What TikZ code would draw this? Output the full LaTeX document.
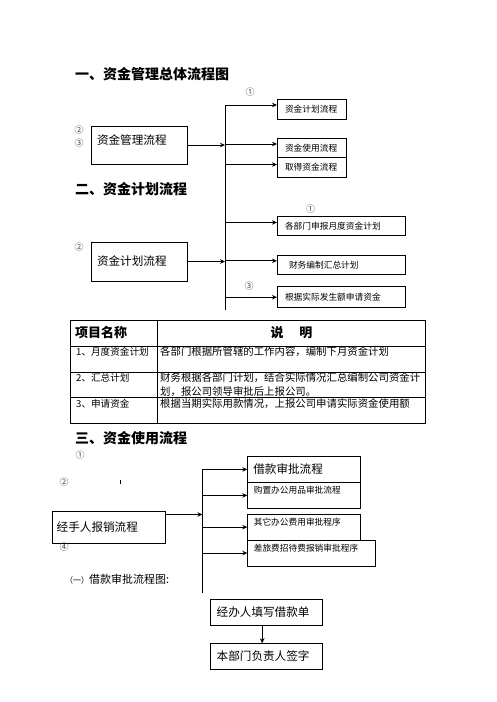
\documentclass[tikz,border=0pt]{standalone}
\usepackage{fontspec}
\setmainfont{Noto Sans CJK SC}
\usetikzlibrary{arrows.meta,positioning}
\tikzset{
  sectitle/.style={anchor=west,inner sep=0pt,font=\bfseries\fontsize{14}{16}\selectfont},
  circnum/.style={inner sep=0pt,font=\fontsize{9}{9}\selectfont,text=black!75},
  flowbox/.style={draw,line width=0.8pt,outer sep=0pt,anchor=north west,
                  inner ysep=0pt,align=left},
  bigtxt/.style={inner xsep=6pt,font=\fontsize{11.6}{13}\selectfont},
  smalltxt/.style={inner xsep=8pt,font=\fontsize{8.7}{10}\selectfont},
  cell/.style={anchor=west,inner sep=0pt,align=left,font=\fontsize{10.4}{13.5}\selectfont},
  namecell/.style={cell,font=\fontsize{9.6}{12}\selectfont},
  tabhead/.style={inner sep=0pt,font=\bfseries\fontsize{13}{15}\selectfont},
  tabline/.style={line width=0.8pt},
  arr/.style={-{Stealth[length=5pt,width=4.5pt]},line width=0.8pt},
}
\begin{document}
\begin{tikzpicture}[x=1pt,y=-1pt]
  \useasboundingbox (0,0) rectangle (496,702);

  % --- section 1
  \node[sectitle] (t1) at (75,74) {一、资金管理总体流程图};
  \node[flowbox,bigtxt,text width=84pt,minimum height=38pt,text depth=11.4pt]
    (m1) at (91,126) {资金管理流程};
  \node[flowbox,smalltxt,text width=53pt,minimum height=20pt] (a1) at (277,99) {资金计划流程};
  \node[flowbox,smalltxt,text width=53pt,minimum height=19pt] (a2) at (277,138.5) {资金使用流程};
  \node[flowbox,smalltxt,text width=53pt,minimum height=20pt,below=0pt of a2] (a3) {取得资金流程};

  \node[circnum] (n11) at (250,92) {①};
  \node[circnum] (n12) at (79,130.5) {②};
  \node[circnum] (n13) at (79,143) {③};

  \coordinate (v1t) at (225,105);
  \coordinate (v1b) at (225,310);
  \draw[tabline] (v1t) -- (v1b);
  \draw[arr] (m1.east) -- (m1.east -| v1t);
  \draw[arr] (v1t) -- (v1t -| a1.west);
  \coordinate (p2) at ([yshift=4pt]a2.west);
  \coordinate (p3) at ([yshift=3pt]a3.west);
  \draw[arr] (v1t |- p2) -- (p2);
  \draw[arr] (v1t |- p3) -- (p3);

  % --- section 2
  \node[sectitle] (t2) at (75,189) {二、资金计划流程};
  \node[flowbox,bigtxt,text width=84pt,minimum height=39pt] (m2) at (91,242) {资金计划流程};
  \node[flowbox,smalltxt,text width=112pt,minimum height=18.5pt] (b1) at (277,216.7) {各部门申报月度资金计划};
  \node[flowbox,smalltxt,text width=112pt,minimum height=19pt] (b2) at (277,255.3) {\hspace{4pt}财务编制汇总计划};
  \node[flowbox,smalltxt,text width=112pt,minimum height=21pt] (b3) at (277,286.7) {根据实际发生额申请资金};

  \node[circnum] (n21) at (310.7,209) {①};
  \node[circnum] (n22) at (79,247.5) {②};
  \node[circnum] (n23) at (249,286.5) {③};

  \draw[arr] (m2.east) -- (m2.east -| v1t);
  \coordinate (q1) at ([yshift=3.5pt]b1.west);
  \coordinate (q2) at ([yshift=4pt]b2.west);
  \draw[arr] (v1t |- q1) -- (q1);
  \draw[arr] (v1t |- q2) -- (q2);
  \draw[arr] (v1t |- b3.west) -- (b3.west);

  % --- table
  \draw[tabline] (70.7,320) rectangle (425.7,423.3);
  \draw[tabline] (157.7,320) -- (157.7,423.3);
  \foreach \y in {346,372,397}
    \draw[tabline] (70.7,\y) -- (425.7,\y);
  \node[tabhead,anchor=west] (h1) at (75,333) {项目名称};
  \node[tabhead] (h2) at (291.5,333) {说\hspace{16pt}明};
  \node[namecell] (r1a) at (76,352) {1、月度资金计划};
  \node[cell] (r1b) at (160,352) {各部门根据所管辖的工作内容，编制下月资金计划};
  \node[namecell] (r2a) at (76,378) {2、汇总计划};
  \node[cell] (r2b) at (160,384.7) {财务根据各部门计划，结合实际情况汇总编制公司资金计\\划，报公司领导审批后上报公司。};
  \node[namecell] (r3a) at (76,404) {3、申请资金};
  \node[cell] (r3b) at (160,404) {根据当期实际用款情况，上报公司申请实际资金使用额};

  % --- section 3
  \node[sectitle] (t3) at (75,438) {三、资金使用流程};
  \node[flowbox,bigtxt,inner xsep=4.4pt,text width=104.6pt,minimum height=31.7pt]
    (m3) at (52.3,511.3) {经手人报销流程};
  \node[flowbox,bigtxt,text width=101.4pt,minimum height=26.2pt] (c1) at (247.3,456.3) {借款审批流程};
  \node[flowbox,smalltxt,inner xsep=6.5pt,text width=100.4pt,minimum height=25.8pt,
        text depth=11.8pt,below=0pt of c1] (c2) {购置办公用品审批流程};
  \node[flowbox,smalltxt,inner xsep=6.5pt,text width=100.4pt,minimum height=25.7pt,
        text depth=10pt] (c3) at (247.3,514.3) {其它办公费用审批程序};
  \node[flowbox,smalltxt,inner xsep=6.5pt,text width=114.7pt,minimum height=26pt,
        text depth=10.4pt,below=0pt of c3.south west,anchor=north west] (c4) {差旅费招待费报销审批程序};

  \node[circnum] (n31) at (80,455.5) {①};
  \node[circnum] (n32) at (64,481.7) {②};
  \node[circnum] (n34) at (64,547) {④};
  \draw[line width=0.6pt] (120,479.5) -- (120,483.5);

  \coordinate (v3t) at (202.5,469.3);
  \coordinate (v3b) at (202.5,592.7);
  \draw[tabline] (v3t) -- (v3b);
  \coordinate (s0) at ([yshift=-3.2pt]m3.north east);
  \draw[arr] (s0) -- (s0 -| v3t);
  \foreach \b in {c1,c2,c3,c4}
    \draw[arr] (v3t |- \b.west) -- (\b.west);

  \node[anchor=west,inner sep=0pt,font=\fontsize{11}{13}\selectfont] (sub1) at (65,579)
    {{\fontsize{8}{8}\selectfont （一）}借款审批流程图:};

  \node[flowbox,bigtxt,text width=100pt,minimum height=25.7pt] (d1) at (210.7,599.3) {经办人填写借款单};
  \node[flowbox,bigtxt,text width=100pt,minimum height=26pt] (d2) at (210.7,643.3) {本部门负责人签字};
  \coordinate (w1) at ([xshift=-4.5pt]d1.south);
  \draw[arr] (w1) -- (w1 |- d2.north);
\end{tikzpicture}
\end{document}
